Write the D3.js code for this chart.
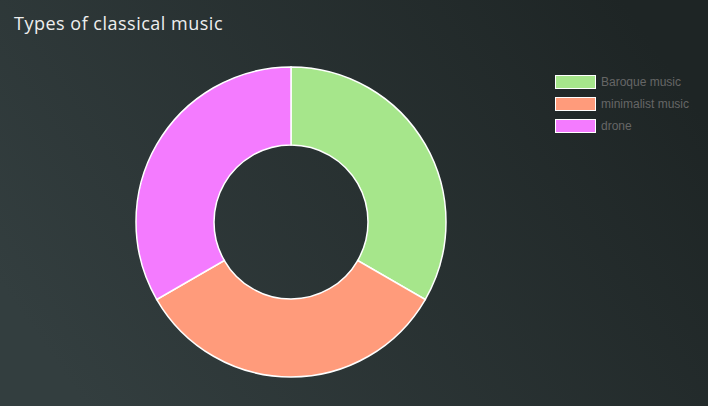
<!DOCTYPE html>
<html>
<head>
<meta charset="utf-8">
<script src="https://cdn.jsdelivr.net/npm/d3@7"></script>
<style>
  html, body { margin: 0; padding: 0; }
  body { width: 708px; height: 406px; overflow: hidden; }
</style>
</head>
<body>
<svg id="chart"></svg>
<script>
const categories = ["Baroque music", "minimalist music", "drone"];
const values = [1, 1, 1];
const colors = ["#a6e68b", "#ff9b7b", "#f47bff"];

const w = 708;
const h = 406;
const cx = 291, cy = 222;
const outerR = 155, innerR = 77;

const svg = d3.select("#chart")
    .attr("width", w)
    .attr("height", h);

const defs = svg.append("defs");
const grad = defs.append("linearGradient")
    .attr("id", "bg")
    .attr("x1", "0%").attr("y1", "70%")
    .attr("x2", "100%").attr("y2", "30%");
grad.append("stop").attr("offset", "0%").attr("stop-color", "#333e3f");
grad.append("stop").attr("offset", "100%").attr("stop-color", "#1e2525");

svg.append("rect")
    .attr("width", w)
    .attr("height", h)
    .attr("fill", "url(#bg)");

svg.append("text")
    .attr("x", 14)
    .attr("y", 30)
    .style("font-family", "'Open Sans', sans-serif")
    .style("font-size", "18px")
    .style("letter-spacing", "0.5px")
    .attr("fill", "#eeeeee")
    .text("Types of classical music");

const pie = d3.pie().sort(null).value(d => d.value);
const arc = d3.arc().innerRadius(innerR).outerRadius(outerR);
const color = d3.scaleOrdinal().domain(categories).range(colors);

const data = values.map((v, i) => ({ name: categories[i], value: v }));

svg.append("g")
    .attr("transform", `translate(${cx},${cy})`)
    .selectAll("path")
    .data(pie(data))
    .join("path")
    .attr("d", arc)
    .attr("fill", d => color(d.data.name))
    .attr("stroke", "#ffffff")
    .attr("stroke-width", 1.5);

const legend = svg.append("g")
    .attr("transform", "translate(555,75)");

const rowY = d3.scaleBand().domain(categories).range([0, 66]);

const rows = legend.selectAll("g")
    .data(categories)
    .join("g")
    .attr("transform", d => `translate(0,${rowY(d)})`);

rows.append("rect")
    .attr("x", 0.5)
    .attr("y", 0.5)
    .attr("width", 40)
    .attr("height", 13)
    .attr("fill", d => color(d))
    .attr("stroke", "#ffffff")
    .attr("stroke-width", 1);

rows.append("text")
    .attr("x", 46)
    .attr("y", 11)
    .style("font-family", "'Liberation Sans', Arial, sans-serif")
    .style("font-size", "12px")
    .attr("fill", "#666666")
    .text(d => d);
</script>
</body>
</html>
